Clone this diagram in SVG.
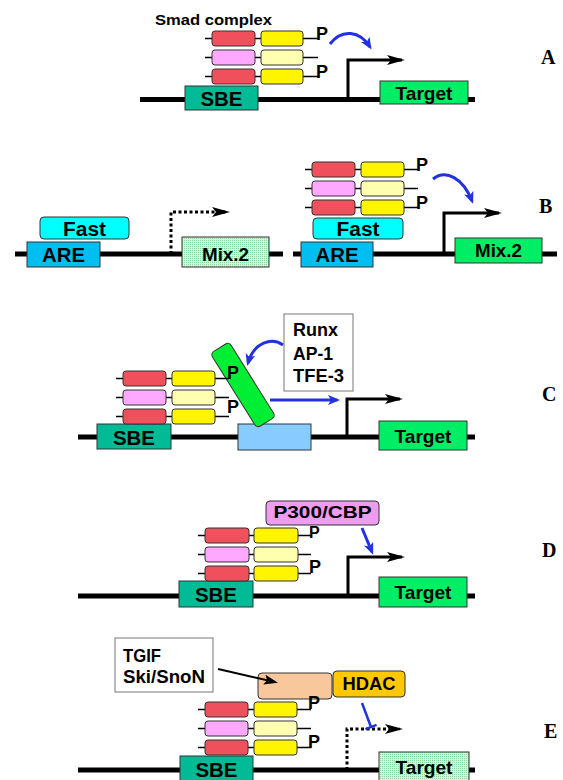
<svg xmlns="http://www.w3.org/2000/svg" width="563" height="780" viewBox="0 0 563 780">
<defs>
<style>
.t{font-family:"Liberation Sans",Arial,sans-serif;font-weight:bold;fill:#000}
.lab{font-family:"Liberation Serif","Times New Roman",serif;font-weight:bold;font-size:20px;fill:#000}
.dna{stroke:#000;stroke-width:5;fill:none}
.box{stroke:#333;stroke-width:1}
.stub{stroke:#000;stroke-width:1.5;fill:none}
.red{fill:#F0505C;stroke:#333;stroke-width:1}
.pink{fill:#FFA8FF;stroke:#333;stroke-width:1}
.yel{fill:#FFF500;stroke:#333;stroke-width:1}
.lyel{fill:#FFFFB0;stroke:#333;stroke-width:1}
.prom{stroke:#000;stroke-width:3;fill:none;marker-end:url(#ah)}
.promd{stroke:#000;stroke-width:3;fill:none;stroke-dasharray:3 2.5;marker-end:url(#ah)}
.blue{stroke:#2233DD;stroke-width:3;fill:none;marker-end:url(#bh)}
</style>
<marker id="ah" markerUnits="userSpaceOnUse" markerWidth="20" markerHeight="12" refX="15" refY="5" orient="auto">
<path d="M0,0 L18,5 L0,10 L4,5 z" fill="#000"/>
</marker>
<marker id="bh" markerUnits="userSpaceOnUse" markerWidth="14" markerHeight="12" refX="9" refY="5" orient="auto">
<path d="M0,0 L12,5 L0,10 L3,5 z" fill="#2233DD"/>
</marker>
<marker id="kh" markerUnits="userSpaceOnUse" markerWidth="16" markerHeight="12" refX="11" refY="5" orient="auto">
<path d="M0,0 L14,5 L0,10 L3,5 z" fill="#000"/>
</marker>
<pattern id="dots" width="2" height="2" patternUnits="userSpaceOnUse">
<rect width="2" height="2" fill="#D2F7DA"/>
<rect width="1" height="1" fill="#86D99C"/>
</pattern>
</defs>
<rect width="563" height="780" fill="#fff"/>

<!-- Panel labels -->
<g id="labels">
<text class="lab" x="541" y="64">A</text>
<text class="lab" x="539" y="213">B</text>
<text class="lab" x="542" y="401">C</text>
<text class="lab" x="542" y="557">D</text>
<text class="lab" x="544" y="738">E</text>
</g>

<!-- DNA lines -->
<g id="dna">
<path class="dna" d="M140,99.5 H475"/>
<path class="dna" d="M15,254 H283"/>
<path class="dna" d="M293,254 H557"/>
<path class="dna" d="M78,437 H475"/>
<path class="dna" d="M78,596 H475"/>
<path class="dna" d="M78,770 H475"/>
</g>

<!-- ===== Panel A ===== -->
<g id="A-title"><text class="t" x="155" y="25" font-size="15.5" textLength="117" lengthAdjust="spacingAndGlyphs">Smad complex</text></g>
<g id="A-sbe"><rect class="box" x="185" y="86" width="73" height="24" fill="#00BB95"/><text class="t" x="221.5" y="106" font-size="21" text-anchor="middle" textLength="42" lengthAdjust="spacingAndGlyphs">SBE</text></g>
<g id="A-target"><rect class="box" x="380" y="81" width="88" height="23" fill="#00EE66"/><text class="t" x="424" y="100" font-size="19" text-anchor="middle" textLength="57" lengthAdjust="spacingAndGlyphs">Target</text></g>
<g id="A-smad" transform="translate(205,31)">
<path class="stub" d="M0,7.5 H113 M0,26.5 H113 M0,45.5 H113"/>
<rect class="red" x="7" y="0" width="43" height="15" rx="3"/><rect class="yel" x="56" y="0" width="42" height="15" rx="3"/>
<rect class="pink" x="7" y="19" width="43" height="15" rx="3"/><rect class="lyel" x="56" y="19" width="42" height="15" rx="3"/>
<rect class="red" x="7" y="38" width="43" height="15" rx="3"/><rect class="yel" x="56" y="38" width="42" height="15" rx="3"/>
<text class="t" x="111" y="8.5" font-size="18">P</text>
<text class="t" x="111" y="46.5" font-size="18">P</text>
</g>

<!-- ===== Panel B left ===== -->
<g id="BL-are"><rect class="box" x="27" y="242" width="73" height="25" fill="#00BFF0"/><text class="t" x="63.5" y="262" font-size="21" text-anchor="middle" textLength="43" lengthAdjust="spacingAndGlyphs">ARE</text></g>
<g id="BL-fast"><rect class="box" x="40" y="217" width="89" height="22" rx="4" fill="#00FFFF"/><text class="t" x="84.5" y="236" font-size="20" text-anchor="middle" textLength="43" lengthAdjust="spacingAndGlyphs">Fast</text></g>
<g id="BL-mix"><rect class="box" x="182" y="237" width="87" height="30" fill="url(#dots)"/><text class="t" x="225.5" y="261" font-size="18" text-anchor="middle" textLength="47" lengthAdjust="spacingAndGlyphs">Mix.2</text></g>

<!-- ===== Panel B right ===== -->
<g id="BR-are"><rect class="box" x="301" y="242" width="72" height="25" fill="#00BFF0"/><text class="t" x="337" y="262" font-size="21" text-anchor="middle" textLength="43" lengthAdjust="spacingAndGlyphs">ARE</text></g>
<g id="BR-fast"><rect class="box" x="313" y="218" width="90" height="21" rx="4" fill="#00FFFF"/><text class="t" x="358" y="236" font-size="20" text-anchor="middle" textLength="43" lengthAdjust="spacingAndGlyphs">Fast</text></g>
<g id="BR-mix"><rect class="box" x="455" y="238" width="87" height="25" fill="#00EE66"/><text class="t" x="498.5" y="257" font-size="18" text-anchor="middle" textLength="47" lengthAdjust="spacingAndGlyphs">Mix.2</text></g>
<g id="BR-smad" transform="translate(305,162)">
<path class="stub" d="M0,7.5 H113 M0,26.5 H113 M0,45.5 H113"/>
<rect class="red" x="7" y="0" width="43" height="15" rx="3"/><rect class="yel" x="56" y="0" width="43" height="15" rx="3"/>
<rect class="pink" x="7" y="19" width="43" height="15" rx="3"/><rect class="lyel" x="56" y="19" width="43" height="15" rx="3"/>
<rect class="red" x="7" y="38" width="43" height="15" rx="3"/><rect class="yel" x="56" y="38" width="43" height="15" rx="3"/>
<text class="t" x="111" y="8.5" font-size="18">P</text>
<text class="t" x="111" y="46.5" font-size="18">P</text>
</g>

<!-- ===== Panel C ===== -->
<g id="C-sbe"><rect class="box" x="97" y="424" width="74" height="25" fill="#00BB95"/><text class="t" x="134" y="445" font-size="21" text-anchor="middle" textLength="42" lengthAdjust="spacingAndGlyphs">SBE</text></g>
<g id="C-site"><rect class="box" x="238" y="424" width="73" height="26" fill="#88CCFF"/></g>
<g id="C-target"><rect class="box" x="379" y="421" width="88" height="29" fill="#00EE66"/><text class="t" x="423" y="443" font-size="19" text-anchor="middle" textLength="57" lengthAdjust="spacingAndGlyphs">Target</text></g>
<g id="C-factor"><rect class="box" x="-11" y="-44" width="22" height="88" rx="4" fill="#00EE33" transform="translate(243,385) rotate(-32)"/></g>
<g id="C-smad" transform="translate(116,371)">
<path class="stub" d="M0,7.5 H113 M0,26.5 H113 M0,45.5 H113"/>
<rect class="red" x="7" y="0" width="43" height="15" rx="3"/><rect class="yel" x="56" y="0" width="43" height="15" rx="3"/>
<rect class="pink" x="7" y="19" width="43" height="15" rx="3"/><rect class="lyel" x="56" y="19" width="43" height="15" rx="3"/>
<rect class="red" x="7" y="38" width="43" height="15" rx="3"/><rect class="yel" x="56" y="38" width="43" height="15" rx="3"/>
<text class="t" x="111" y="7.5" font-size="18">P</text>
<text class="t" x="111" y="42" font-size="18">P</text>
</g>
<g id="C-tf"><rect x="284" y="314" width="69" height="77" fill="#fff" stroke="#777" stroke-width="1"/>
<text class="t" x="293" y="336" font-size="18" textLength="45" lengthAdjust="spacingAndGlyphs">Runx</text>
<text class="t" x="293" y="360" font-size="18" textLength="40" lengthAdjust="spacingAndGlyphs">AP-1</text>
<text class="t" x="293" y="382" font-size="18" textLength="51" lengthAdjust="spacingAndGlyphs">TFE-3</text></g>

<!-- ===== Panel D ===== -->
<g id="D-sbe"><rect class="box" x="179" y="581" width="74" height="26" fill="#00BB95"/><text class="t" x="216" y="602" font-size="21" text-anchor="middle" textLength="42" lengthAdjust="spacingAndGlyphs">SBE</text></g>
<g id="D-target"><rect class="box" x="379" y="577" width="88" height="30" fill="#00EE66"/><text class="t" x="423" y="599" font-size="19" text-anchor="middle" textLength="57" lengthAdjust="spacingAndGlyphs">Target</text></g>
<g id="D-p300"><rect class="box" x="266" y="501" width="113" height="24" rx="4" fill="#EE9CF0"/><text class="t" x="322.5" y="518" font-size="17" text-anchor="middle" textLength="98" lengthAdjust="spacingAndGlyphs">P300/CBP</text></g>
<g id="D-smad" transform="translate(198,528)">
<path class="stub" d="M0,7.5 H113 M0,26.5 H113 M0,45.5 H113"/>
<rect class="red" x="7" y="0" width="44" height="15" rx="3"/><rect class="yel" x="56" y="0" width="44" height="15" rx="3"/>
<rect class="pink" x="7" y="19" width="44" height="15" rx="3"/><rect class="lyel" x="56" y="19" width="44" height="15" rx="3"/>
<rect class="red" x="7" y="38" width="44" height="15" rx="3"/><rect class="yel" x="56" y="38" width="44" height="15" rx="3"/>
<text class="t" x="111" y="10" font-size="16">P</text>
<text class="t" x="111" y="44.5" font-size="18">P</text>
</g>

<!-- ===== Panel E ===== -->
<g id="E-sbe"><rect class="box" x="180" y="756" width="73" height="30" fill="#00BB95"/><text class="t" x="216.5" y="777" font-size="21" text-anchor="middle" textLength="42" lengthAdjust="spacingAndGlyphs">SBE</text></g>
<g id="E-target"><rect class="box" x="379" y="752" width="90" height="32" fill="url(#dots)"/><text class="t" x="424" y="774" font-size="19" text-anchor="middle" textLength="57" lengthAdjust="spacingAndGlyphs">Target</text></g>
<g id="E-tgif"><rect x="115" y="638" width="98" height="54" fill="#fff" stroke="#777" stroke-width="1"/>
<text class="t" x="123" y="662" font-size="18" textLength="38" lengthAdjust="spacingAndGlyphs">TGIF</text>
<text class="t" x="123" y="683" font-size="18" textLength="82" lengthAdjust="spacingAndGlyphs">Ski/SnoN</text></g>
<g id="E-corep"><rect class="box" x="258" y="673" width="74" height="26" rx="4" fill="#F8C89C"/></g>
<g id="E-hdac"><rect class="box" x="333" y="671" width="72" height="26" rx="4" fill="#FFC800"/><text class="t" x="369" y="690" font-size="18" text-anchor="middle" textLength="53" lengthAdjust="spacingAndGlyphs">HDAC</text></g>
<g id="E-smad" transform="translate(198,702)">
<path class="stub" d="M0,7.5 H113 M0,26.5 H113 M0,45.5 H113"/>
<rect class="red" x="7" y="0" width="43" height="15" rx="3"/><rect class="yel" x="56" y="0" width="43" height="15" rx="3"/>
<rect class="pink" x="7" y="19" width="43" height="15" rx="3"/><rect class="lyel" x="56" y="19" width="43" height="15" rx="3"/>
<rect class="red" x="7" y="38" width="43" height="15" rx="3"/><rect class="yel" x="56" y="38" width="43" height="15" rx="3"/>
<text class="t" x="110" y="6.5" font-size="18">P</text>
<text class="t" x="110" y="45.5" font-size="18">P</text>
</g>

<!-- Connectors -->
<g id="connectors">
<path class="prom" d="M348,99 V60 H402"/>
<path class="blue" d="M330,44 C342,28 360,31 370,47"/>
<path class="promd" d="M171,254 V212 H227"/>
<path class="prom" d="M444,254 V213 H499"/>
<path class="blue" d="M433,179 C446,169 463,178 472,201"/>
<path class="prom" d="M347,437 V399 H400"/>
<path class="blue" d="M270,400 H337"/>
<path class="blue" d="M283,345 C272,337 254,342 248,363"/>
<path class="prom" d="M348,596 V557 H402"/>
<path class="blue" d="M362,528 L372,552"/>
<path class="promd" d="M347,770 V729 H400"/>
<path d="M218,669 L275,682" stroke="#000" stroke-width="2" fill="none" marker-end="url(#kh)"/>
<path d="M362,703 L371,727 M365.4,729.1 L376.6,724.9" stroke="#2233DD" stroke-width="2.5" fill="none"/>
</g>
</svg>
